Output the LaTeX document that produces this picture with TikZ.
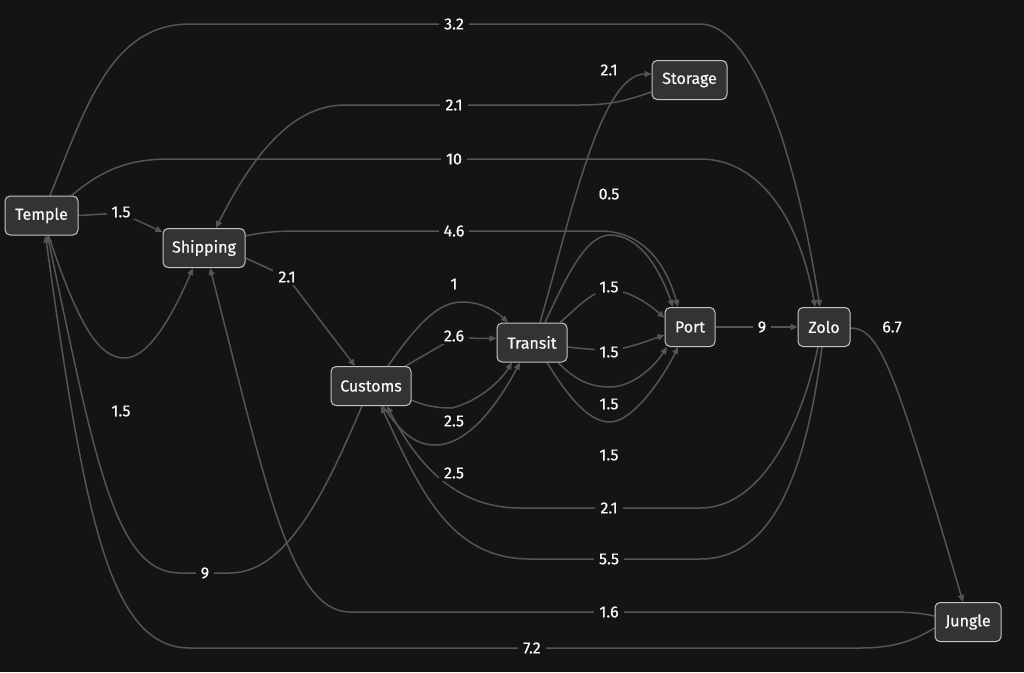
\documentclass[tikz,border=0pt]{standalone}
\usepackage{fontspec}
\setmainfont{Fira Sans}[FakeBold=0.6]
\usetikzlibrary{arrows.meta,calc}
\definecolor{bgc}{HTML}{141414}
\definecolor{nodefill}{HTML}{333333}
\definecolor{nodeborder}{HTML}{C4C4C4}
\definecolor{edgec}{HTML}{555555}
\definecolor{txt}{HTML}{F7F7F7}
\pgfdeclarelayer{bglayer}
\pgfdeclarelayer{edgelayer}
\pgfsetlayers{bglayer,edgelayer,main}
\begin{document}
\begin{tikzpicture}[x=1pt,y=-1pt,
  box/.style={draw=nodeborder, fill=nodefill, rounded corners=5pt, line width=1pt, text=txt,
    font=\fontsize{16}{19}\selectfont, minimum height=39pt, inner xsep=0pt, inner ysep=0pt},
  lbl/.style={fill=bgc, text=txt, font=\fontsize{16}{19}\selectfont, inner xsep=5pt, inner ysep=2pt},
  edge/.style={draw=edgec, line width=1.5pt, -{Triangle[length=7pt,width=6pt]}},
]
\useasboundingbox (0,0) rectangle (1024,672);
\begin{pgfonlayer}{bglayer}
\fill[bgc] (0,0) rectangle (1024,672);
\end{pgfonlayer}

% nodes
\node[box, minimum width=73pt] (Temple)   at (41.5,215.5) {Temple};
\node[box, minimum width=82pt] (Shipping) at (204,248)    {Shipping};
\node[box, minimum width=80pt] (Customs)  at (371,386)    {Customs};
\node[box, minimum width=70pt] (Transit)  at (532,342.5)  {Transit};
\node[box, minimum width=75pt] (Storage)  at (689.5,80)   {Storage};
\node[box, minimum width=50pt] (Port)     at (690,327)    {Port};
\node[box, minimum width=52pt] (Zolo)     at (824,327)    {Zolo};
\node[box, minimum width=66pt] (Jungle)   at (968,622)    {Jungle};

% labels
\node[lbl] (l1)  at (121,212) {1.5};
\node[lbl] (l2)  at (454,24)  {3.2};
\node[lbl] (l3)  at (454,105) {2.1};
\node[lbl] (l4)  at (454,159) {10};
\node[lbl] (l5)  at (609,70)  {2.1};
\node[lbl] (l6)  at (609,194) {0.5};
\node[lbl] (l7)  at (454,231) {4.6};
\node[lbl] (l8)  at (287,277) {2.1};
\node[lbl] (l9)  at (454,284) {1};
\node[lbl] (l10) at (454,336) {2.6};
\node[lbl] (l11) at (609,287) {1.5};
\node[lbl] (l12) at (609,352) {1.5};
\node[lbl] (l13) at (762,327) {9};
\node[lbl] (l14) at (892,327) {6.7};
\node[lbl] (l15) at (121,411) {1.5};
\node[lbl] (l16) at (609,404) {1.5};
\node[lbl] (l17) at (454,421) {2.5};
\node[lbl] (l18) at (609,455) {1.5};
\node[lbl] (l19) at (454,473) {2.5};
\node[lbl] (l20) at (609,508) {2.1};
\node[lbl] (l21) at (609,559) {5.5};
\node[lbl] (l22) at (205,573) {9};
\node[lbl] (l23) at (609,612) {1.6};
\node[lbl] (l24) at (532,648) {7.2};

\begin{pgfonlayer}{edgelayer}
% Temple -> Shipping (1.5)
\draw[edge] (Temple.east) -- (121,213) -- ([yshift=-4pt]Shipping.north west);
% Temple -> Zolo (3.2)
\draw[edge] ([xshift=8.5pt]Temple.north) .. controls (85,110) and (110,24) .. (190,24) -- (700,24)
  .. controls (745,24) and (790,120) .. ([xshift=-4pt]Zolo.north);
% Temple -> Zolo (10)
\draw[edge] ([xshift=30pt]Temple.north) .. controls (100,172) and (125,159) .. (170,159) -- (700,159)
  .. controls (760,159) and (800,220) .. ([xshift=-9pt]Zolo.north);
% Storage -> Shipping (2.1)
\draw[edge] ([yshift=-12pt]Storage.west) .. controls (625,101) and (610,105) .. (580,105) -- (345,105)
  .. controls (295,105) and (255,150) .. ([xshift=12pt]Shipping.north);
% Transit -> Storage (2.1)
\draw[edge] ([xshift=8pt]Transit.north) .. controls (570,220) and (600,74) .. ([yshift=6pt]Storage.west);
% Shipping -> Port (4.6)
\draw[edge] ([yshift=12pt]Shipping.east) .. controls (262,232) and (280,231) .. (300,231) -- (600,231)
  .. controls (640,231) and (665,260) .. ([xshift=-12pt]Port.north);
% Shipping -> Customs (2.1)
\draw[edge] ([yshift=-10pt]Shipping.east) -- (287,277) -- ([xshift=-16pt]Customs.north);
% Temple -> Shipping (1.5, lower)
\draw[edge] ([xshift=7pt]Temple.south) .. controls (80,330) and (100,358) .. (125,358)
  .. controls (150,358) and (175,310) .. ([xshift=-11pt]Shipping.south);
% Jungle -> Shipping (1.6)
\draw[edge] ([yshift=6pt]Jungle.west) .. controls (915,612) and (905,612) .. (880,612) -- (350,612)
  .. controls (290,612) and (265,480) .. ([xshift=6pt]Shipping.south);
% Jungle -> Temple (7.2)
\draw[edge] ([yshift=-6pt]Jungle.west) .. controls (915,640) and (895,648) .. (860,648) -- (190,648)
  .. controls (110,648) and (85,520) .. ([xshift=4pt]Temple.south);
% Customs -> Temple (9)
\draw[edge] ([xshift=-9pt]Customs.south) .. controls (330,480) and (290,573) .. (230,573) -- (180,573)
  .. controls (115,573) and (95,460) .. ([xshift=6pt]Temple.south);
% Customs -> Transit (1)
\draw[edge] ([xshift=17pt]Customs.north) .. controls (420,320) and (440,302) .. (462,302)
  .. controls (480,302) and (495,310) .. ([xshift=-24pt]Transit.north);
% Customs -> Transit (2.6)
\draw[edge] ([xshift=-6pt]Customs.north east) -- (454,338) -- ([yshift=4pt]Transit.west);
% Customs -> Transit (2.5)
\draw[edge] ([yshift=-14pt]Customs.east) .. controls (422,405) and (435,408) .. (452,408)
  .. controls (475,402) and (498,385) .. ([xshift=-20pt]Transit.south);
% Customs -> Transit (2.5, deep)
\draw[edge] ([xshift=12pt]Customs.south) .. controls (400,432) and (415,445) .. (435,445)
  .. controls (470,445) and (500,400) .. ([xshift=-12pt]Transit.south);
% Zolo -> Customs (2.1)
\draw[edge] ([xshift=-6pt]Zolo.south) .. controls (800,430) and (760,508) .. (700,508) -- (520,508)
  .. controls (460,508) and (420,470) .. ([xshift=16pt]Customs.south);
% Zolo -> Customs (5.5)
\draw[edge] ([xshift=-2pt]Zolo.south) .. controls (805,480) and (770,559) .. (700,559) -- (530,559)
  .. controls (450,559) and (420,490) .. ([xshift=10pt]Customs.south);
% Transit -> Port (1.5) x4
\draw[edge] ([xshift=28pt]Transit.north) .. controls (575,310) and (592,290) .. (609,290)
  .. controls (630,290) and (650,305) .. ([yshift=9pt]Port.west);
\draw[edge] ([yshift=-4.5pt]Transit.east) .. controls (585,349) and (598,350) .. (612,350)
  .. controls (630,348) and (650,340) .. ([yshift=-8pt]Port.west);
\draw[edge] ([xshift=26pt]Transit.south) .. controls (575,380) and (590,387) .. (610,387)
  .. controls (630,387) and (652,370) .. ([xshift=-23pt]Port.south);
\draw[edge] ([xshift=15pt]Transit.south) .. controls (570,400) and (590,422) .. (610,422)
  .. controls (632,422) and (662,380) .. ([xshift=-12pt]Port.south);
% Transit -> Port (0.5)
\draw[edge] ([xshift=13pt]Transit.north) .. controls (565,280) and (585,235) .. (610,235)
  .. controls (640,235) and (660,270) .. ([xshift=-17pt]Port.north);
% Port -> Zolo (9)
\draw[edge] (Port.east) -- (Zolo.west);
% Zolo -> Jungle (6.7)
\draw[edge] ([yshift=-1pt]Zolo.east) .. controls (880,328) and (895,370) .. ([xshift=-5pt]Jungle.north);
\end{pgfonlayer}
\end{tikzpicture}
\end{document}
